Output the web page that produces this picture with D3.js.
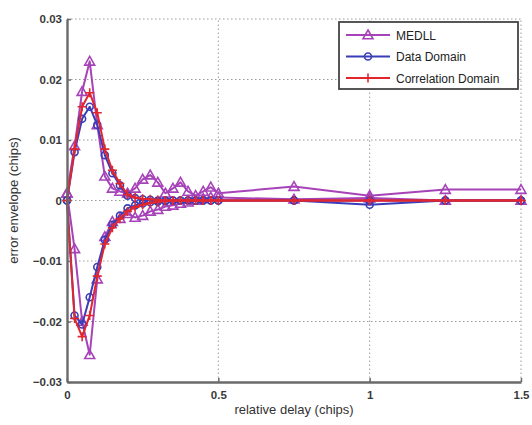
<!DOCTYPE html>
<html>
<head>
<meta charset="utf-8">
<script src="https://cdn.jsdelivr.net/npm/d3@7"></script>
<style>
  body { margin: 0; background: #fff; }
  svg { display: block; }
  text { font-family: "Liberation Sans", Arial, sans-serif; }
</style>
</head>
<body>
<svg id="chart" width="532" height="425"></svg>
<script>
// relative delay samples (chips)
const delays = [0, 0.025, 0.05, 0.075, 0.1, 0.125, 0.15, 0.175, 0.2, 0.225, 0.25, 0.275, 0.3,
  0.325, 0.35, 0.375, 0.4, 0.425, 0.45, 0.475, 0.5, 0.75, 1, 1.25, 1.5];

// error envelope (chips): upper and lower branch for each discriminator
const medllUpper = [0.0012, 0.009, 0.018, 0.023, 0.0125, 0.004, 0.002, 0.0015, 0.0012, 0.002, 0.0035,
  0.0042, 0.003, 0.0012, 0.002, 0.003, 0.0015, 0.0008, 0.0015, 0.0022, 0.0012, 0.0023, 0.0008, 0.0018, 0.0018];
const medllLower = [0.0012, -0.008, -0.02, -0.0255, -0.013, -0.006, -0.0035, -0.003, -0.0022, -0.0028, -0.0025,
  -0.0018, -0.0015, -0.001, -0.0008, -0.0005, -0.0003, 0, 0.0003, 0.0005, 0.0005, 0.0002, 0.0004, 0, 0];
const dataUpper = [0, 0.008, 0.0135, 0.0155, 0.0125, 0.0075, 0.0045, 0.0025, 0.0008, 0.0004, 0.0002,
  0.0001, 0, 0, 0, 0, 0, 0, 0, 0, 0, 0, 0, 0, 0];
const dataLower = [0, -0.019, -0.0205, -0.016, -0.011, -0.0065, -0.004, -0.0025, -0.0013, -0.0008, -0.0005,
  -0.0003, -0.0002, -0.0001, 0, 0, 0, 0, 0, 0, 0, 0, -0.0007, 0, 0];
const corrUpper = [0, 0.0085, 0.0155, 0.0178, 0.0145, 0.0085, 0.005, 0.0028, 0.001, 0.0005, 0.0003,
  0.0002, 0.0001, 0, 0, 0, 0, 0, 0, 0, 0, 0, 0, 0, 0];
const corrLower = [0, -0.0195, -0.0225, -0.019, -0.0125, -0.0072, -0.0045, -0.003, -0.0018, -0.0011, -0.0007,
  -0.0004, -0.0002, -0.0001, 0, 0, 0, 0, 0, 0, 0, 0, 0, 0, 0];

const seriesNames = ["MEDLL", "Data Domain", "Correlation Domain"];
const xTicks = [0, 0.5, 1, 1.5];
const yTicks = [-0.03, -0.02, -0.01, 0, 0.01, 0.02, 0.03];

const series = [
  { name: seriesNames[0], color: "#a743b8", marker: "triangle", branches: [medllUpper, medllLower] },
  { name: seriesNames[1], color: "#3b3db8", marker: "circle", branches: [dataUpper, dataLower] },
  { name: seriesNames[2], color: "#e2262e", marker: "plus", branches: [corrUpper, corrLower] }
];

const svg = d3.select("#chart");
const margin = { left: 67, right: 11, top: 19, bottom: 43 };
const W = 532, H = 425;

const x = d3.scaleLinear().domain([0, 1.5]).range([margin.left, W - margin.right]);
const y = d3.scaleLinear().domain([-0.03, 0.03]).range([H - margin.bottom, margin.top]);

// dotted grid
const grid = svg.append("g");
grid.selectAll(".gx").data(xTicks.slice(1, -1)).join("line")
  .attr("x1", d => x(d)).attr("x2", d => x(d))
  .attr("y1", y(-0.03)).attr("y2", y(0.03))
  .attr("stroke", "#9a9a9a").attr("stroke-width", 1).attr("stroke-dasharray", "1.5,2.5");
grid.selectAll(".gy").data(yTicks.slice(1, -1)).join("line")
  .attr("x1", x(0)).attr("x2", x(1.5))
  .attr("y1", d => y(d)).attr("y2", d => y(d))
  .attr("stroke", "#9a9a9a").attr("stroke-width", 1).attr("stroke-dasharray", "1.5,2.5");
// top and right dotted borders
grid.append("line").attr("x1", x(0)).attr("x2", x(1.5)).attr("y1", y(0.03)).attr("y2", y(0.03))
  .attr("stroke", "#9a9a9a").attr("stroke-dasharray", "1.5,2.5");
grid.append("line").attr("x1", x(1.5)).attr("x2", x(1.5)).attr("y1", y(-0.03)).attr("y2", y(0.03))
  .attr("stroke", "#9a9a9a").attr("stroke-dasharray", "1.5,2.5");

// markers
function drawMarker(g, type, cx, cy, color) {
  if (type === "triangle") {
    const s = 5;
    g.append("path")
      .attr("d", `M${cx},${cy - s} L${cx + s},${cy + s * 0.75} L${cx - s},${cy + s * 0.75} Z`)
      .attr("fill", "none").attr("stroke", color).attr("stroke-width", 1.6);
  } else if (type === "circle") {
    g.append("circle").attr("cx", cx).attr("cy", cy).attr("r", 3.5)
      .attr("fill", "none").attr("stroke", color).attr("stroke-width", 1.6);
  } else {
    const s = 4.5;
    g.append("path")
      .attr("d", `M${cx - s},${cy} H${cx + s} M${cx},${cy - s} V${cy + s}`)
      .attr("stroke", color).attr("stroke-width", 1.6);
  }
}

const line = d3.line().x(d => x(d[0])).y(d => y(d[1]));
const plot = svg.append("g");
series.forEach(s => {
  s.branches.forEach(vals => {
    const pts = delays.map((d, i) => [d, vals[i]]);
    plot.append("path").datum(pts).attr("d", line)
      .attr("fill", "none").attr("stroke", s.color).attr("stroke-width", 2).attr("stroke-linejoin", "round");
    pts.forEach(p => drawMarker(plot, s.marker, x(p[0]), y(p[1]), s.color));
  });
});

// axes box (bottom and left solid)
const axisColor = "#6a6a6a";
const xAxis = d3.axisBottom(x).tickValues(xTicks).tickFormat(d3.format("~g")).tickSizeInner(-4).tickSizeOuter(0).tickPadding(9);
const yAxis = d3.axisLeft(y).tickValues(yTicks).tickFormat(d => d === 0 ? "0" : d3.format(".2f")(d)).tickSizeInner(-4).tickSizeOuter(0).tickPadding(5);

const gx = svg.append("g").attr("transform", `translate(0,${y(-0.03)})`).call(xAxis);
const gy = svg.append("g").attr("transform", `translate(${x(0)},0)`).call(yAxis);
[gx, gy].forEach(g => {
  g.select(".domain").attr("stroke", axisColor).attr("stroke-width", 2.4);
  g.selectAll(".tick line").attr("stroke", axisColor).attr("stroke-width", 1.5);
  g.selectAll(".tick text").attr("fill", "#3a3a3a").attr("font-size", 11.5).attr("font-weight", "bold");
});

// axis titles
svg.append("text").attr("x", (x(0) + x(1.5)) / 2).attr("y", 414)
  .attr("text-anchor", "middle").attr("font-size", 13).attr("fill", "#333")
  .text("relative delay (chips)");
svg.append("text").attr("transform", `translate(18,${(y(0.03) + y(-0.03)) / 2}) rotate(-90)`)
  .attr("text-anchor", "middle").attr("font-size", 13).attr("fill", "#333")
  .text("error envelope (chips)");

// legend
const lg = svg.append("g");
lg.append("rect").attr("x", 339).attr("y", 22).attr("width", 179).attr("height", 67)
  .attr("fill", "#fff").attr("stroke", "#444").attr("stroke-width", 1.8);
series.forEach((s, i) => {
  const ly = 35 + i * 21.5;
  lg.append("line").attr("x1", 346).attr("x2", 390).attr("y1", ly).attr("y2", ly)
    .attr("stroke", s.color).attr("stroke-width", 2);
  drawMarker(lg, s.marker, 368, ly, s.color);
  lg.append("text").attr("x", 396).attr("y", ly + 4.5).attr("font-size", 12).attr("fill", "#222")
    .text(s.name);
});
</script>
</body>
</html>
